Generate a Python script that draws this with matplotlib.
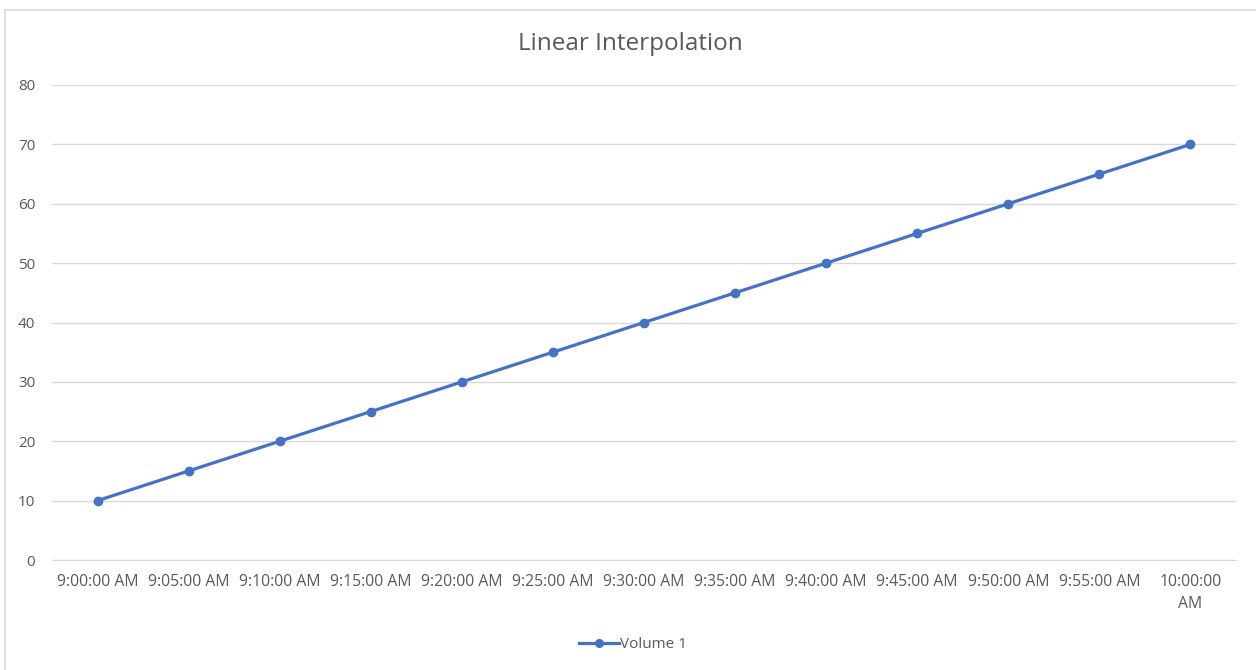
import matplotlib.pyplot as plt
from matplotlib.lines import Line2D

# chart data
time_labels = ['9:00:00 AM', '9:05:00 AM', '9:10:00 AM', '9:15:00 AM', '9:20:00 AM',
               '9:25:00 AM', '9:30:00 AM', '9:35:00 AM', '9:40:00 AM', '9:45:00 AM',
               '9:50:00 AM', '9:55:00 AM', '10:00:00\nAM']
volume_1 = [10, 15, 20, 25, 30, 35, 40, 45, 50, 55, 60, 65, 70]
y_ticks = [0, 10, 20, 30, 40, 50, 60, 70, 80]

plt.rcParams['font.family'] = ['Open Sans', 'DejaVu Sans']

fig = plt.figure(figsize=(12.56, 6.70), dpi=100)
ax = fig.add_axes([52 / 1256, 1 - 560 / 670, (1236 - 52) / 1256, (560 - 85) / 670])

blue = '#4472C4'
grey_text = '#595959'
grid_col = '#D9D9D9'

x = list(range(len(volume_1)))
ax.plot(x, volume_1, color=blue, linewidth=2.3, marker='o', markersize=6)

ax.set_xlim(-0.5, len(x) - 0.5)
ax.set_ylim(0, 80)
ax.set_yticks(y_ticks)
ax.set_xticks(x)
ax.set_xticklabels(time_labels, fontsize=11.3, color=grey_text, linespacing=1.5)
ax.tick_params(axis='y', labelsize=11, labelcolor=grey_text, length=0, pad=12)
ax.tick_params(axis='x', length=0, pad=10)
ax.grid(axis='y', color=grid_col, linewidth=1)
ax.set_axisbelow(True)
for s in ax.spines.values():
    s.set_visible(False)
ax.spines['bottom'].set_visible(True)
ax.spines['bottom'].set_color(grid_col)

fig.text(630 / 1256, 1 - 44 / 670, 'Linear Interpolation', ha='center', va='center',
         fontsize=17.5, color=grey_text)

handle = Line2D([], [], color=blue, linewidth=2.3, marker='o', markersize=5.5)
fig.legend([handle], ['Volume 1'], loc='center', bbox_to_anchor=(633 / 1256, 1 - 645 / 670),
           frameon=False, fontsize=11, labelcolor=grey_text, handlelength=2.6,
           handletextpad=0.1)

# outer chart border (cropped at right and bottom)
fig.add_artist(Line2D([5 / 1256, 5 / 1256], [0, 1 - 10 / 670], color=grid_col, linewidth=1.2,
                      transform=fig.transFigure))
fig.add_artist(Line2D([5 / 1256, 1], [1 - 10 / 670, 1 - 10 / 670], color=grid_col, linewidth=1.2,
                      transform=fig.transFigure))

fig.savefig('out.png', dpi=100)
